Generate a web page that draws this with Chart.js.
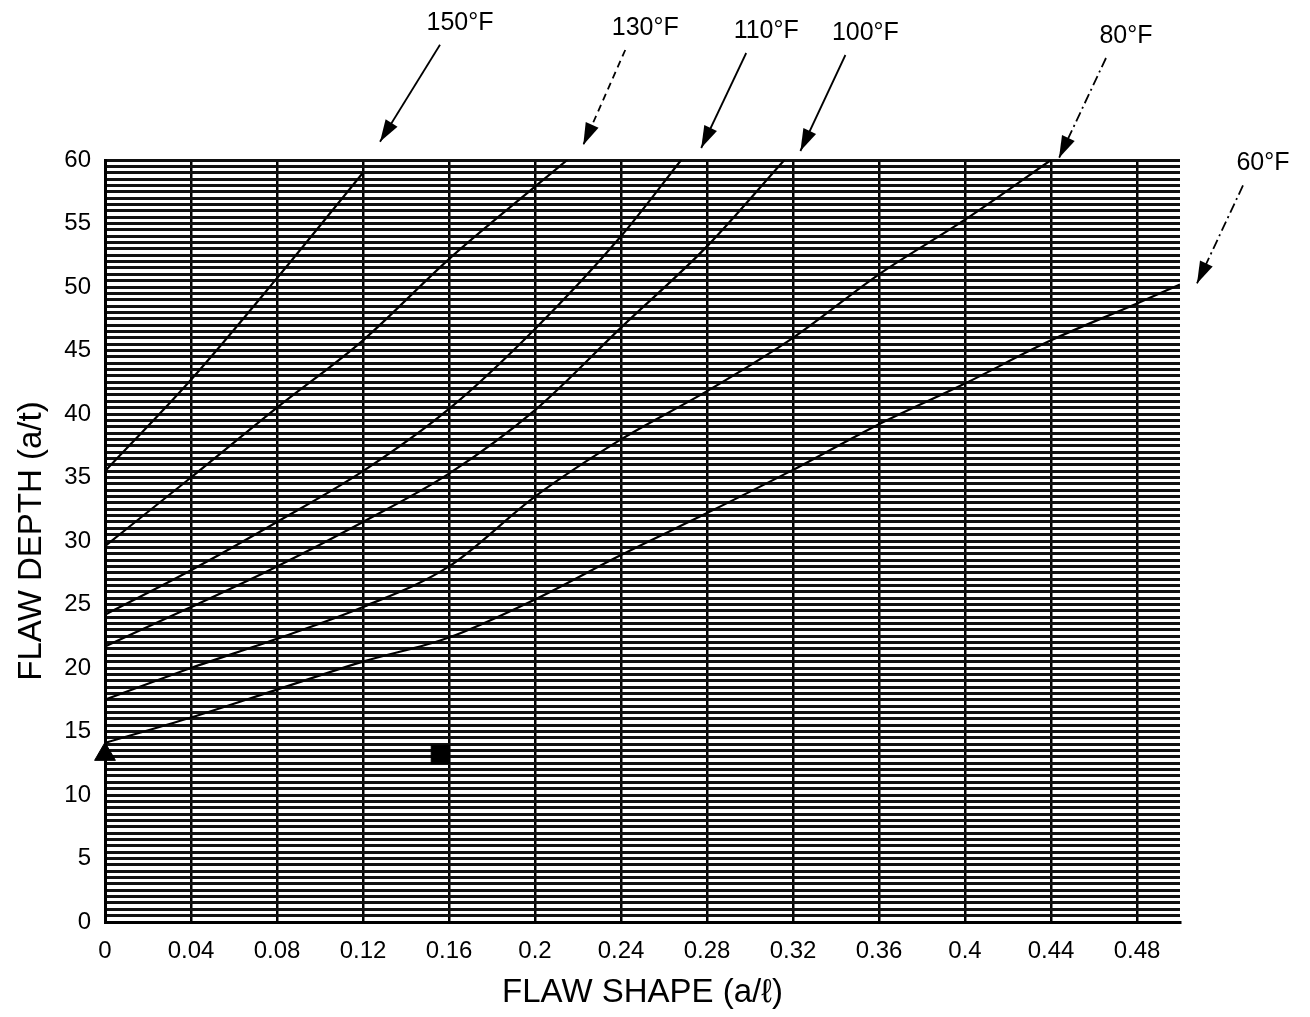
<!DOCTYPE html>
<html>
<head>
<meta charset="utf-8">
<script src="https://cdn.jsdelivr.net/npm/chart.js@4"></script>
<style>
  body { margin: 0; background: #fff; }
  #wrap { width: 1310px; height: 1017px; }
</style>
</head>
<body>
<div id="wrap"><canvas id="grafico" width="1310" height="1017"></canvas></div>
<script>
"use strict"

// curves: flaw shape (a/l) vs flaw depth (a/t), one per temperature
const tempLabels = ['150°F', '130°F', '110°F', '100°F', '80°F', '60°F'];

const xs150 = [0, 0.04, 0.08, 0.12];
const ys150 = [35.5, 42.7, 50.7, 59.0];
const xs130 = [0, 0.04, 0.08, 0.12, 0.16, 0.2, 0.215];
const ys130 = [29.6, 35.0, 40.5, 45.8, 52.2, 57.9, 60.0];
const xs110 = [0, 0.04, 0.08, 0.12, 0.16, 0.2, 0.24, 0.268];
const ys110 = [24.2, 27.7, 31.5, 35.5, 40.4, 46.7, 54.0, 60.0];
const xs100 = [0, 0.04, 0.08, 0.12, 0.16, 0.2, 0.24, 0.28, 0.316];
const ys100 = [21.7, 24.8, 28.0, 31.5, 35.3, 40.3, 46.8, 53.2, 60.0];
const xs80 = [0, 0.04, 0.08, 0.12, 0.16, 0.2, 0.24, 0.28, 0.32, 0.36, 0.4, 0.44];
const ys80 = [17.5, 20.0, 22.3, 24.8, 28.0, 33.5, 38.0, 41.8, 46.0, 51.0, 55.3, 60.0];
const xs60 = [0, 0.04, 0.08, 0.12, 0.16, 0.2, 0.24, 0.28, 0.32, 0.36, 0.4, 0.44, 0.48, 0.5];
const ys60 = [14.1, 16.1, 18.3, 20.5, 22.4, 25.4, 28.9, 32.2, 35.6, 39.2, 42.4, 45.8, 48.7, 50.2];

// the two marked flaws
const triX = [0];
const triY = [13.2];
const sqX = [0.156];
const sqY = [13.2];

// axis ticks
const xTickStep = 0.04;
const yTickStep = 0.5;
const yLabelEvery = 5;

const FONT = '"Liberation Sans", Arial, Helvetica, sans-serif';

const pares = (xs, ys) => xs.map((x, i) => ({ x: x, y: ys[i] }));

const curvas = [
    pares(xs150, ys150),
    pares(xs130, ys130),
    pares(xs110, ys110),
    pares(xs100, ys100),
    pares(xs80, ys80),
    pares(xs60, ys60)
];

// arrow from label to curve end: tip offset from curve end, arrow vector, dash
const flechas = [
    { dx: 17, dy: -31, vx: 60, vy: -97, dash: [] },
    { dx: 16, dy: -15, vx: 42, vy: -95, dash: [7, 5] },
    { dx: 20, dy: -12, vx: 45, vy: -95, dash: [] },
    { dx: 16, dy: -9, vx: 45, vy: -96, dash: [] },
    { dx: 8, dy: -2, vx: 47, vy: -100, dash: [10, 4, 2, 4] },
    { dx: 17, dy: -1, vx: 46, vy: -98, dash: [10, 4, 2, 4] }
];

const etiquetasPlugin = {
    id: 'etiquetas',
    afterDraw(chart) {
        const ctx = chart.ctx;
        const xs = chart.scales.x;
        const ys = chart.scales.y;
        ctx.save();
        curvas.forEach((pts, i) => {
            const fin = pts[pts.length - 1];
            const f = flechas[i];
            const tipX = xs.getPixelForValue(fin.x) + f.dx;
            const tipY = ys.getPixelForValue(fin.y) + f.dy;
            const tailX = tipX + f.vx;
            const tailY = tipY + f.vy;

            // shaft
            ctx.strokeStyle = '#000';
            ctx.lineWidth = 1.8;
            ctx.setLineDash(f.dash);
            ctx.beginPath();
            ctx.moveTo(tailX, tailY);
            ctx.lineTo(tipX, tipY);
            ctx.stroke();
            ctx.setLineDash([]);

            // head
            const ang = Math.atan2(tipY - tailY, tipX - tailX);
            const len = 22, half = 7;
            const bx = tipX - Math.cos(ang) * len;
            const by = tipY - Math.sin(ang) * len;
            ctx.fillStyle = '#000';
            ctx.beginPath();
            ctx.moveTo(tipX, tipY);
            ctx.lineTo(bx + Math.sin(ang) * half, by - Math.cos(ang) * half);
            ctx.lineTo(bx - Math.sin(ang) * half, by + Math.cos(ang) * half);
            ctx.closePath();
            ctx.fill();

            // label
            ctx.font = '25px ' + FONT;
            ctx.textAlign = 'center';
            ctx.textBaseline = 'middle';
            ctx.fillText(tempLabels[i], tailX + 20, tailY - 22);
        });
        ctx.restore();
    }
};

document.addEventListener('DOMContentLoaded', e => {

    const lineas = curvas.map((pts, i) => ({
        label: tempLabels[i],
        data: pts,
        showLine: true,
        borderColor: '#000',
        borderWidth: 2.2,
        pointRadius: 0,
        cubicInterpolationMode: 'monotone',
        fill: false
    }));

    const marcas = [
        {
            label: 'triangle',
            data: pares(triX, triY),
            showLine: false,
            pointStyle: 'triangle',
            pointRadius: 12,
            backgroundColor: '#000',
            borderColor: '#000',
            clip: false
        },
        {
            label: 'square',
            data: pares(sqX, sqY),
            showLine: false,
            pointStyle: 'rect',
            pointRadius: 13,
            backgroundColor: '#000',
            borderColor: '#000',
            clip: false
        }
    ];

    new Chart(document.getElementById('grafico'), {
        type: 'scatter',
        data: { datasets: lineas.concat(marcas) },
        options: {
            responsive: false,
            animation: false,
            layout: { padding: { top: 160, right: 130, left: 0, bottom: 0 } },
            plugins: {
                legend: { display: false },
                tooltip: { enabled: false }
            },
            scales: {
                x: {
                    type: 'linear',
                    min: 0,
                    max: 0.5,
                    afterFit: s => { s.height = 95; },
                    border: { display: true, color: '#000', width: 3 },
                    grid: { color: '#000', lineWidth: 2.5, drawTicks: false },
                    ticks: {
                        stepSize: xTickStep,
                        includeBounds: false,
                        autoSkip: false,
                        maxRotation: 0,
                        padding: 15,
                        color: '#000',
                        font: { family: FONT, size: 24 },
                        callback: v => v > 0.49 ? '' : String(Number(v.toFixed(2)))
                    },
                    title: {
                        display: true,
                        text: 'FLAW SHAPE (a/ℓ)',
                        color: '#000',
                        font: { family: FONT, size: 33 },
                        padding: { top: 0, bottom: 4 }
                    }
                },
                y: {
                    type: 'linear',
                    min: 0,
                    max: 60,
                    afterFit: s => { s.width = 105; },
                    border: { display: true, color: '#000', width: 3 },
                    grid: { color: '#111', lineWidth: 3, drawTicks: false },
                    ticks: {
                        stepSize: yTickStep,
                        autoSkip: false,
                        padding: 14,
                        color: '#000',
                        font: { family: FONT, size: 24 },
                        callback: v => v % yLabelEvery === 0 ? v : ''
                    },
                    title: {
                        display: true,
                        text: 'FLAW DEPTH (a/t)',
                        color: '#000',
                        font: { family: FONT, size: 33 },
                        padding: { top: 12, bottom: 0 }
                    }
                }
            }
        },
        plugins: [etiquetasPlugin]
    });
});
</script>
</body>
</html>
